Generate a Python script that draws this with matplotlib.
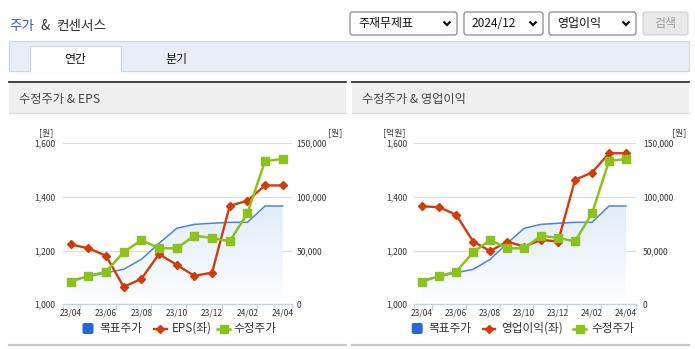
import numpy as np
import matplotlib
matplotlib.use("agg")
import matplotlib.pyplot as plt
from matplotlib.patches import Rectangle, FancyBboxPatch
from matplotlib.colors import LinearSegmentedColormap

plt.rcParams["font.family"] = ["Noto Sans CJK KR", "DejaVu Sans"]

W, H = 695, 349

# monthly data, 23/04 .. 24/04
months = ["23/04", "23/05", "23/06", "23/07", "23/08", "23/09", "23/10",
          "23/11", "23/12", "24/01", "24/02", "24/03", "24/04"]
target_price = [22650, 25700, 29400, 32600, 41900, 56800, 70800,
                74500, 75500, 76400, 76400, 91600, 91600]   # 목표주가 (원)
adj_price = [21100, 26400, 30400, 48500, 59900, 52200, 52200,
             63900, 61800, 58700, 84800, 133500, 135400]     # 수정주가 (원)
eps = [1223, 1209, 1181, 1065, 1095, 1187, 1147,
       1106, 1118, 1367, 1386, 1443, 1443]                   # EPS (원)
op_income = [1365, 1362, 1333, 1234, 1198, 1234, 1215,
             1240, 1234, 1464, 1491, 1563, 1563]             # 영업이익 (억원)

left_ticks = [1000, 1200, 1400, 1600]
right_ticks = [0, 50000, 100000, 150000]

BLUE = "#4a84de"
LEG_BLUE = "#2468d8"
RED = "#d03c0a"
GREEN = "#8cc21c"
AXIS = "#c4d2e4"
TXT = "#333333"


def rect(x0, y0, x1, y1):
    return [x0 / W, 1 - y1 / H, (x1 - x0) / W, (y1 - y0) / H]


fig = plt.figure(figsize=(W / 100, H / 100), dpi=100)
bg = fig.add_axes([0, 0, 1, 1])
bg.set_xlim(0, W)
bg.set_ylim(H, 0)
bg.axis("off")

# page title
bg.text(9, 26, "주가", color="#3060c8", fontsize=9.8, va="center")
bg.text(40.5, 26, "&", color=TXT, fontsize=9.8, va="center")
bg.text(56.5, 26, "컨센서스", color=TXT, fontsize=9.8, va="center")

# select boxes
for x0, x1, label in [(350, 457, "주재무제표"), (464, 543, "2024/12"), (549, 636, "영업이익")]:
    bg.add_patch(FancyBboxPatch((x0, 12), x1 - x0, 23, boxstyle="round,pad=0,rounding_size=2.5",
                                fc="white", ec="#7d7d7d", lw=0.8))
    bg.text(x0 + 8, 23.5, label, fontsize=8.6, color="#111", va="center")
    cx = x1 - 10
    bg.plot([cx - 3.5, cx, cx + 3.5], [21.5, 25, 21.5], color="#111", lw=1.6,
            solid_capstyle="butt", solid_joinstyle="miter")
bg.add_patch(FancyBboxPatch((643, 12), 45, 23, boxstyle="round,pad=0,rounding_size=2.5",
                            fc="#e9e9e9", ec="#cfcfcf", lw=0.8))
bg.text(665.5, 23.5, "검색", fontsize=8.6, color="#9a9a9a", va="center", ha="center")

# tab bar
bg.add_patch(Rectangle((9, 41), 680, 30, fc="#e8eef8", ec="#cdd7e6", lw=0.9))
bg.add_patch(Rectangle((29.7, 46), 91, 25.5, fc="white", ec="none"))
bg.plot([29.7, 29.7, 120.7, 120.7], [71, 46, 46, 71], color="#cdd7e6", lw=0.9)
bg.text(75, 59, "연간", fontsize=8.6, color="#111", ha="center", va="center")
bg.text(176, 59, "분기", fontsize=8.6, color="#111", ha="center", va="center")


def panel(x0, x1, title):
    bg.add_patch(Rectangle((x0, 82.5), x1 - x0, 30.5, fc="#efefef", ec="none"))
    bg.plot([x0, x1], [81.6, 81.6], color="#333333", lw=1.3)
    bg.plot([x0, x1], [113, 113], color="#dddddd", lw=0.8)
    bg.plot([x0, x1], [344.5, 344.5], color="#c8c8c8", lw=1.6)
    bg.text(x0 + 10, 99, title, fontsize=8.8, color="#444", va="center")


panel(9, 346, "수정주가 & EPS")
panel(352, 689, "수정주가 & 영업이익")


def chart(box, left_vals, xlim, lpad, rpad):
    x = np.arange(len(months))
    # base axes: right scale (원), grid, area + target line
    ax = fig.add_axes(rect(*box))
    ax.set_facecolor("white")
    poly = ax.fill_between(x, target_price, 0, color="none", lw=0)
    grad = np.linspace(0, 1, 256).reshape(-1, 1)
    cmap = LinearSegmentedColormap.from_list("fade", ["#fdfeff", "#e1ecfa"])
    img = ax.imshow(grad, extent=[x[0], x[-1], 0, max(target_price)], origin="lower",
                    aspect="auto", cmap=cmap, zorder=1)
    img.set_clip_path(poly.get_paths()[0], transform=ax.transData)
    ax.plot(x, target_price, color=BLUE, lw=1.1, zorder=2)
    ax.set_ylim(0, 150000)

    # left scale: EPS / 영업이익
    axl = ax.twinx()
    axl.plot(x, left_vals, color=RED, lw=1.7, marker="D", ms=4.4)
    axl.set_ylim(1000, 1600)

    # adjusted price on top
    axg = ax.twinx()
    axg.plot(x, adj_price, color=GREEN, lw=1.8, marker="s", ms=6)
    axg.set_ylim(0, 150000)
    axg.set_yticks([])

    ax.yaxis.tick_right()
    ax.set_yticks(right_ticks, [f"{v:,}" for v in right_ticks])
    ax.yaxis.grid(True, color="#dcdcdc", lw=0.8)
    ax.set_axisbelow(True)
    ax.tick_params(axis="y", length=0, pad=rpad, labelsize=6.1, labelcolor=TXT,
                   left=False, labelleft=False, right=True, labelright=True)

    axl.yaxis.tick_left()
    axl.set_yticks(left_ticks, [f"{v:,}" for v in left_ticks])
    axl.tick_params(axis="y", length=0, pad=lpad, labelsize=6.1, labelcolor=TXT,
                    right=False, labelright=False, left=True, labelleft=True)

    ax.set_xlim(*xlim)
    ax.set_xticks([xlim[0]] + list(np.arange(0.55, 11, 2)) + [xlim[1]])
    ax.set_xticklabels([])
    ax.set_xticks(x[::2], months[::2], minor=True)
    ax.tick_params(axis="x", which="major", length=4, color=AXIS, width=0.9)
    ax.tick_params(axis="x", which="minor", length=0, pad=3, labelsize=6.1, labelcolor=TXT)

    for a in (ax, axl, axg):
        for s in a.spines.values():
            s.set_visible(False)
    axg.spines["bottom"].set_visible(True)
    axg.spines["bottom"].set_color(AXIS)
    axg.spines["bottom"].set_linewidth(0.9)


chart((62.7, 143.3, 292.3, 304.3), eps, (-0.45, 12.54), 5.5, 3.2)
chart((414.3, 143.3, 636, 304.3), op_income, (-0.47, 12.59), 5, 5)

# axis units
for cx, label in [(46, "[원]"), (335, "[원]"), (394, "[억원]"), (679, "[원]")]:
    bg.text(cx, 133, label, fontsize=6.4, color=TXT, ha="center", va="center")


def legend(sq_x, t1, lx, t2, gx, t3, name2):
    y = 328.5
    bg.add_patch(FancyBboxPatch((sq_x, y - 5.5), 11, 11, boxstyle="round,pad=0,rounding_size=2",
                                fc=LEG_BLUE, ec="none"))
    bg.text(t1, y, "목표주가", fontsize=8.4, color=TXT, va="center")
    bg.plot([lx, lx + 12.5], [y, y], color=RED, lw=1.7)
    bg.plot([lx + 6.25], [y], color=RED, marker="D", ms=4.4)
    bg.text(t2, y, name2, fontsize=8.4, color=TXT, va="center")
    bg.plot([gx, gx + 13], [y, y], color=GREEN, lw=1.8)
    bg.plot([gx + 6.5], [y], color=GREEN, marker="s", ms=6)
    bg.text(t3, y, "수정주가", fontsize=8.4, color=TXT, va="center")


legend(82.5, 99, 154, 172, 217, 233, "EPS(좌)")
legend(411.7, 428, 482.7, 501, 573, 591, "영업이익(좌)")

fig.savefig("out.png", dpi=100)
